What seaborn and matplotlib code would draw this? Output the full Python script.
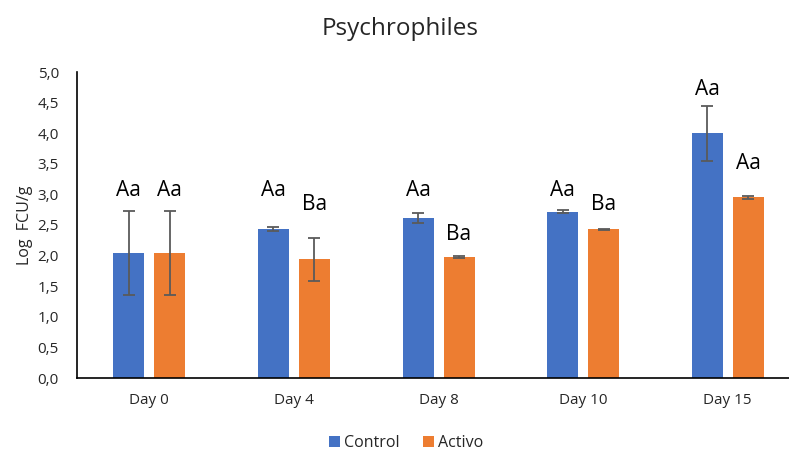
import matplotlib
matplotlib.use("Agg")
import matplotlib.pyplot as plt
from matplotlib.ticker import FuncFormatter
import numpy as np
import pandas as pd
import seaborn as sns

days = ["Day 0", "Day 4", "Day 8", "Day 10", "Day 15"]
control = [2.04, 2.43, 2.61, 2.72, 4.00]
control_err = [0.69, 0.03, 0.08, 0.02, 0.45]
activo = [2.04, 1.94, 1.98, 2.43, 2.95]
activo_err = [0.69, 0.35, 0.02, 0.005, 0.02]
control_lab = ["Aa", "Aa", "Aa", "Aa", "Aa"]
activo_lab = ["Aa", "Ba", "Ba", "Ba", "Aa"]
control_lab_y = [3.07, 3.07, 3.07, 3.07, 4.71]
activo_lab_y = [3.07, 2.83, 2.35, 2.83, 3.51]

blue = "#4472C4"
orange = "#ED7D31"

df = pd.DataFrame({
    "day": days * 2,
    "value": control + activo,
    "group": ["Control"] * len(days) + ["Activo"] * len(days),
})

sns.set_style("white")
plt.rcParams["font.family"] = ["Open Sans", "DejaVu Sans"]

fig, ax = plt.subplots(figsize=(7.89, 4.5), dpi=100)
fig.subplots_adjust(left=0.0976, right=1.014, top=0.84, bottom=0.16)

sns.barplot(data=df, x="day", y="value", hue="group", order=days,
            hue_order=["Control", "Activo"], palette=[blue, orange],
            width=0.567, gap=0.244, errorbar=None, ax=ax, saturation=1,
            linewidth=0)

n = len(days)
bars = ax.patches[:2 * n]
for i in range(n):
    for bar, vals, errs, labs, laby in [
        (bars[i], control, control_err, control_lab, control_lab_y),
        (bars[n + i], activo, activo_err, activo_lab, activo_lab_y),
    ]:
        xc = bar.get_x() + bar.get_width() / 2
        ax.errorbar(xc, vals[i], yerr=errs[i], color="#5a5a5a", lw=1.3,
                    capsize=4, capthick=1.3, zorder=5)
        ax.text(xc, laby[i], labs[i], ha="center", va="center", fontsize=15,
                color="black")

ax.set_ylim(0, 5)
ax.set_yticks(np.arange(0, 5.01, 0.5))
ax.yaxis.set_major_formatter(FuncFormatter(lambda v, p: f"{v:.1f}".replace(".", ",")))
ax.tick_params(axis="both", length=0, labelsize=11, colors="#262626")
ax.tick_params(axis="x", pad=11)
ax.tick_params(axis="y", pad=13)
ax.set_xlabel("")
ax.set_ylabel("Log  FCU/g", fontsize=11.5, labelpad=3)
ax.set_xlim(-0.5, n - 0.5)

for s in ["top", "right"]:
    ax.spines[s].set_visible(False)
ax.spines["left"].set_color("black")
ax.spines["bottom"].set_color("black")
ax.spines["left"].set_linewidth(1.2)
ax.spines["bottom"].set_linewidth(1.2)

fig.suptitle("Psychrophiles", fontsize=17.5, x=0.507, y=0.962, va="top")

ax.legend(loc="lower center", bbox_to_anchor=(0.455, -0.285), ncol=2, frameon=False,
          fontsize=11.5, handlelength=0.7, handleheight=0.7, handletextpad=0.2,
          columnspacing=1.5)

fig.savefig("out.png", dpi=100)
